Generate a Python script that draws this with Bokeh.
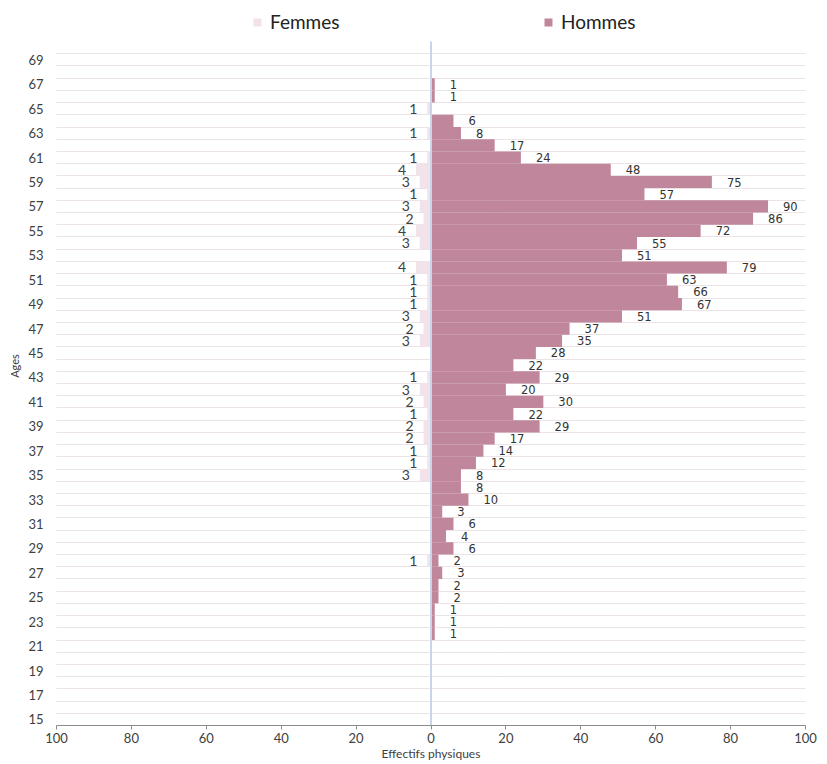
from bokeh.plotting import figure
from bokeh.models import (ColumnDataSource, FixedTicker, CustomJSTickFormatter,
                          Legend, LegendItem)
from bokeh.core.properties import value
from bokeh.embed import file_html
from bokeh.resources import INLINE

# Ages from 69 down to 15
ages = list(range(69, 14, -1))
hommes = [0, 0, 1, 1, 0, 6, 8, 17, 24, 48,
          75, 57, 90, 86, 72, 55, 51, 79, 63, 66,
          67, 51, 37, 35, 28, 22, 29, 20, 30, 22,
          29, 17, 14, 12, 8, 8, 10, 3, 6, 4,
          6, 2, 3, 2, 2, 1, 1, 1, 0, 0,
          0, 0, 0, 0, 0]
femmes = [0, 0, 0, 0, 1, 0, 1, 0, 1, 4,
          3, 1, 3, 2, 4, 3, 0, 4, 1, 1,
          1, 3, 2, 3, 0, 0, 1, 3, 2, 1,
          2, 2, 1, 1, 3, 0, 0, 0, 0, 0,
          0, 1, 0, 0, 0, 0, 0, 0, 0, 0,
          0, 0, 0, 0, 0]
x_ticks = [-100, -80, -60, -40, -20, 0, 20, 40, 60, 80, 100]
y_tick_ages = list(range(15, 70, 2))

COL_H = "#C0869B"
COL_F = "#F2E3EA"
TXT = "#404040"
FONT = "Lato"
FRAME_W = 749
FRAME_H = 719
Y_LO = min(ages) - 0.5          # bottom of the age bands
Y_BAND_TOP = max(ages) + 1.5    # top of the (empty) band above 69
Y_HI = 73.37                    # room above for the legend

src = ColumnDataSource(dict(
    age=ages,
    h=hommes,
    f_neg=[-v for v in femmes],
    zero=[0] * len(ages),
))

h_lab = ColumnDataSource(dict(
    age=[a for a, v in zip(ages, hommes) if v > 0],
    x=[v for v in hommes if v > 0],
    t=[str(v) for v in hommes if v > 0],
))
f_lab = ColumnDataSource(dict(
    age=[a for a, v in zip(ages, femmes) if v > 0],
    x=[-v for v in femmes if v > 0],
    t=[str(v) for v in femmes if v > 0],
))

p = figure(frame_width=FRAME_W, frame_height=FRAME_H,
           output_backend="svg", toolbar_location=None,
           x_range=(-100, 100), y_range=(Y_LO, Y_HI),
           min_border_left=56, min_border_right=14, min_border_top=6,
           min_border_bottom=0)
p.outline_line_color = None
p.background_fill_color = "white"

# grid
p.xgrid.grid_line_color = None
p.ygrid.ticker = FixedTicker(ticks=[a + 0.5 for a in range(min(ages), max(ages) + 1)])
p.ygrid.grid_line_color = "#D8C6CD"
p.ygrid.grid_line_dash = "1 1"
p.ygrid.grid_line_width = 1

rf = p.hbar(y="age", left="f_neg", right="zero", height=1, source=src,
            fill_color=COL_F, line_color=None)
rh = p.hbar(y="age", left="zero", right="h", height=1, source=src,
            fill_color=COL_H, line_color=None)

# zero line
p.segment(x0=[0], y0=[Y_LO], x1=[0], y1=[Y_BAND_TOP], line_color="#C8D6EC", line_width=2)

p.text(x="x", y="age", text="t", source=h_lab, x_offset=15,
       text_align="left", text_baseline="middle",
       text_font=value("DejaVu Sans"), text_font_size="11.5px", text_color="#333333")
p.text(x="x", y="age", text="t", source=f_lab, x_offset=-10,
       text_align="right", text_baseline="middle",
       text_font=value(FONT), text_font_size="14px", text_color=TXT)

# x axis
xa = p.xaxis[0]
xa.ticker = FixedTicker(ticks=x_ticks)
xa.formatter = CustomJSTickFormatter(code="return Math.abs(tick).toString();")
xa.axis_line_color = "#8C8C8C"
xa.major_tick_line_color = "#8C8C8C"
xa.major_tick_out = 4
xa.major_tick_in = 0
xa.minor_tick_line_color = None
xa.major_label_standoff = 3
xa.major_label_text_font = FONT
xa.major_label_text_font_size = "13px"
xa.major_label_text_color = TXT
xa.axis_label = "Effectifs physiques"
xa.axis_label_standoff = 0
xa.axis_label_text_font = FONT
xa.axis_label_text_font_size = "12px"
xa.axis_label_text_font_style = "normal"
xa.axis_label_text_color = TXT

# y axis
ya = p.yaxis[0]
ya.ticker = FixedTicker(ticks=y_tick_ages)
ya.axis_line_color = None
ya.major_tick_line_color = None
ya.minor_tick_line_color = None
ya.major_label_standoff = 7
ya.major_label_text_font = FONT
ya.major_label_text_font_size = "13px"
ya.major_label_text_color = TXT
ya.axis_label = "Ages"
ya.axis_label_standoff = 4
ya.axis_label_text_font = FONT
ya.axis_label_text_font_size = "11px"
ya.axis_label_text_font_style = "normal"
ya.axis_label_text_color = TXT

legend = Legend(items=[LegendItem(label="Femmes", renderers=[rf]),
                       LegendItem(label="Hommes", renderers=[rh])],
                orientation="horizontal", location=(196, FRAME_H - 27))
legend.glyph_width = 10
legend.glyph_height = 10
legend.label_standoff = 8
legend.label_width = 273
legend.spacing = 0
legend.padding = 2
legend.margin = 0
legend.border_line_color = None
legend.background_fill_alpha = 0
legend.label_text_font = FONT
legend.label_text_font_size = "19px"
legend.label_text_color = "#222222"
p.add_layout(legend, "center")

open("out.html", "w").write(file_html(p, INLINE))
